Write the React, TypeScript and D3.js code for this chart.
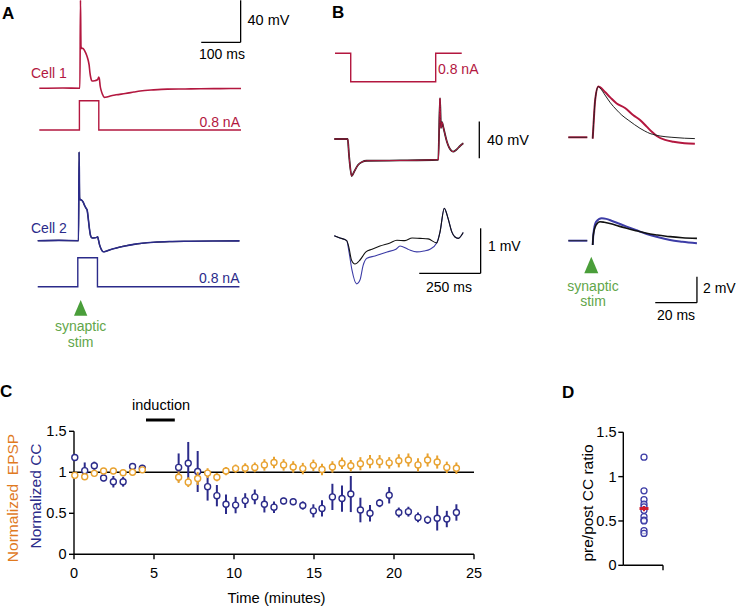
import React from "react";
import * as d3 from "d3";

type P = [number, number];

// ---------- Panel A data (time in ms, voltage in mV, current in nA) ----------
const cell1Voltage: P[] = [
  [0, 0], [60, 0.3], [103, 0], [104.5, 84], [105.8, 40], [107.5, 38], [110.5, 38], [114, 36.5],
  [118, 33.5], [121.5, 30], [124.5, 26], [126.5, 22], [128.5, 15], [130.8, 9.8], [134, 7],
  [140, 7.2], [146.5, 7.9], [149, 9], [151, 10.8], [152.5, 9], [154.5, 2.2], [157, -2],
  [160, -5.4], [164.6, -8.6], [172, -8.2], [180, -7.3], [195, -6.2], [218, -5], [240, -3.6],
  [256, -2.6], [290, -1.5], [325, -0.8], [370, -0.6], [409, -0.4], [460, -0.3], [512, -0.2],
];
const cell2Voltage: P[] = [
  [-4, 0], [50, 0.3], [99.5, 0], [101, 84.5], [102.3, 41], [104, 39], [107, 38.8], [111, 37],
  [115, 33.5], [118.5, 31], [121.5, 29], [124, 22], [127, 12], [130, 5], [134, 2.6], [142, 2.8],
  [146, 3.2], [148, 3.7], [150, 1], [153, -4], [157, -8], [162, -10.5], [170, -10], [180, -8.6],
  [195, -7], [218, -5], [240, -3.5], [260, -2.5], [290, -1.5], [330, -0.8], [380, -0.5],
  [440, -0.3], [508, -0.2],
];
const cell1Current: P[] = [[0, 0], [101.8, 0], [101.8, 0.8], [151, 0.8], [151, 0], [512, 0]];
const cell2Current: P[] = [[-4, 0], [97.7, 0], [97.7, 0.8], [147.6, 0.8], [147.6, 0], [508, 0]];

// ---------- Panel B data ----------
const stepCurrentB: P[] = [[0, 0], [64, 0], [64, -0.8], [410, -0.8], [410, 0], [516, 0]];
const stepVoltageB: P[] = [
  [-3, 0], [51.7, 0], [57, -17.4], [68, -40.3], [77.4, -36], [93.6, -28.4], [110, -25],
  [129, -23.7], [264.7, -23.4], [420.6, -22.6], [427.5, 44.4], [431.6, 12], [435.7, 18.5],
  [441.8, 12], [456, -3.3], [472.5, -12.5], [480.5, -13.8], [493, -12], [509, -7.6], [522.4, -4.7],
];
const smallBlackB: P[] = [
  [-3, 0], [20, -0.05], [47.6, -0.11], [57, -0.27], [67, -0.54], [81.4, -0.63], [101.8, -0.54],
  [126, -0.36], [150.7, -0.3], [183, -0.23], [224, -0.16], [252, -0.1], [285, -0.11],
  [314, -0.05], [346, -0.06], [379, -0.07], [414, -0.16], [427.5, 0.08], [445, 0.61],
  [460, 0.39], [476, 0.08], [488.6, -0.03], [502, -0.06], [522, 0.07],
];
const smallBlueB: P[] = [
  [-3, 0], [20, -0.05], [47.6, -0.11], [57, -0.36], [69, -0.76], [88, -1.07], [102, -0.98],
  [114, -0.67], [130, -0.5], [163, -0.45], [212, -0.36], [248, -0.3], [264.7, -0.23],
  [297, -0.3], [333, -0.36], [362, -0.34], [387, -0.3], [414, -0.16], [427.5, 0.08],
  [445, 0.61], [460, 0.39], [476, 0.08], [488.6, -0.03], [502, -0.06], [522, 0.07],
];
const epspPre: P[] = [[-11.7, 0], [-2.6, 0]];
const epspRed: P[] = [
  [0, -0.1], [0.4, 1], [1.2, 2.9], [2.7, 3.9], [3.5, 3.85], [5.9, 3.48], [8.5, 3.05],
  [11.5, 2.6], [15.5, 2.25], [19.5, 1.7], [22.7, 1.33], [25.9, 0.82], [28.5, 0.4], [30.7, 0.1],
  [34.7, -0.2], [38.7, -0.34], [44, -0.45], [49, -0.5],
];
const epspRedBlack: P[] = [
  [0, -0.1], [0.4, 1], [1.2, 2.9], [2.7, 3.9], [3.5, 3.8], [5.9, 3.25], [8.5, 2.65],
  [11.5, 2.1], [14, 1.7], [17, 1.33], [20, 0.98], [22.7, 0.69], [25, 0.48], [27.5, 0.29],
  [30, 0.18], [32.3, 0.1], [38, 0.0], [44, -0.07], [49, -0.1],
];
const epspBlue: P[] = [
  [0, -0.33], [0.3, 0.44], [1.6, 1.44], [4.3, 1.72], [6.5, 1.68], [9.3, 1.52], [12.5, 1.32],
  [16.3, 1.08], [21, 0.8], [25.9, 0.52], [31, 0.28], [37.1, 0.05], [43, -0.08], [50, -0.2],
];
const epspBlueBlack: P[] = [
  [0, -0.33], [0.3, 0.44], [1.6, 1.2], [3.5, 1.46], [5.5, 1.42], [9.3, 1.28], [12.5, 1.12],
  [16.3, 0.95], [21, 0.76], [25.9, 0.57], [31, 0.44], [37.1, 0.31], [43, 0.23], [50, 0.18],
];

// ---------- Panel C data ----------
const timeMinutes = [
  0.05, 0.67, 1.27, 1.85, 2.46, 3.07, 3.66, 4.27, 6.54, 7.14, 7.73, 8.35, 8.93, 9.5, 10.1,
  10.7, 11.3, 11.9, 12.5, 13.1, 13.7, 14.3, 14.96, 15.5, 16.15, 16.75, 17.3, 17.9, 18.5,
  19.1, 19.7, 20.3, 20.9, 21.5, 22.1, 22.7, 23.3, 23.9,
];
const ccValues = [
  1.18, 1.02, 1.08, 0.93, 0.885, 0.885, 1.07, 1.05, 1.06, 1.11, 1.01, 0.825, 0.715, 0.61,
  0.6, 0.655, 0.7, 0.61, 0.575, 0.65, 0.64, 0.595, 0.53, 0.56, 0.7, 0.68, 0.735, 0.54, 0.5,
  0.625, 0.72, 0.51, 0.52, 0.45, 0.42, 0.44, 0.43, 0.51,
];
const ccErrors = [
  0.02, 0.1, 0.05, 0.04, 0.07, 0.06, 0.04, 0.04, 0.17, 0.26, 0.25, 0.17, 0.13, 0.12, 0.1,
  0.09, 0.09, 0.1, 0.07, 0.04, 0.04, 0.05, 0.08, 0.1, 0.16, 0.16, 0.22, 0.15, 0.1, 0.05,
  0.1, 0.06, 0.06, 0.06, 0.05, 0.15, 0.1, 0.1,
];
const epspValues = [
  0.963, 0.946, 0.987, 1.015, 1.015, 0.995, 1.0, 1.03, 0.94, 0.88, 0.925, 0.99, 0.94, 1.015,
  1.045, 1.05, 1.06, 1.09, 1.12, 1.09, 1.065, 1.045, 1.085, 1.035, 1.065, 1.11, 1.08, 1.105,
  1.13, 1.13, 1.115, 1.14, 1.15, 1.09, 1.15, 1.125, 1.06, 1.05,
];
const epspErrors = [
  0.03, 0.03, 0.03, 0.02, 0.02, 0.02, 0.02, 0.03, 0.07, 0.06, 0.08, 0.06, 0.05, 0.05, 0.05,
  0.06, 0.06, 0.07, 0.07, 0.07, 0.07, 0.07, 0.07, 0.07, 0.07, 0.07, 0.07, 0.08, 0.08, 0.08,
  0.07, 0.08, 0.08, 0.08, 0.08, 0.08, 0.07, 0.07,
];
const cTicksY = [0, 0.5, 1, 1.5];
const cTicksX = [0, 5, 10, 15, 20, 25];
const inductionWindow = [4.5, 6.3];

// ---------- Panel D data ----------
const ratioValues = [1.22, 0.84, 0.74, 0.69, 0.66, 0.62, 0.55, 0.51, 0.5, 0.39, 0.36];
const ratioMean = 0.64;
const ratioSem = 0.03;
const dTicksY = [0, 0.5, 1, 1.5];

// ---------- styling ----------
const CRIMSON = "#b3173f";
const NAVY = "#2b2b8a";
const BLUE_B = "#3c3ca6";
const GREEN = "#4a9e3a";
const GREEN_TXT = "#62a64a";
const ORANGE = "#e8a230";
const ORANGE_LBL = "#e07a1f";
const FONT = "'Liberation Sans', Arial, Helvetica, sans-serif";

const fmt = (v: number) => String(v);

export default function App() {
  const xA = d3.scaleLinear().domain([0, 100]).range([39.3, 78.7]);
  const vA1 = d3.scaleLinear().domain([0, 40]).range([88.3, 46.3]);
  const vA2 = d3.scaleLinear().domain([0, 40]).range([240.7, 198.7]);
  const iA1 = d3.scaleLinear().domain([0, 0.8]).range([130, 100.7]);
  const iA2 = d3.scaleLinear().domain([0, 0.8]).range([286.7, 257.7]);

  const xB = d3.scaleLinear().domain([0, 250]).range([335, 396.4]);
  const iB = d3.scaleLinear().domain([0, -0.8]).range([53.3, 81.7]);
  const vB1 = d3.scaleLinear().domain([0, 40]).range([139, 102.3]);
  const vB2 = d3.scaleLinear().domain([0, 1]).range([235.7, 190.7]);
  const xBr = d3.scaleLinear().domain([0, 20]).range([592.7, 634.4]);
  const vBr1 = d3.scaleLinear().domain([0, 2]).range([137.3, 111.3]);
  const vBr2 = d3.scaleLinear().domain([0, 2]).range([240.7, 214.7]);

  const xC = d3.scaleLinear().domain([0, 25]).range([74, 474]);
  const yC = d3.scaleLinear().domain([0, 1.5]).range([554.3, 431.3]);

  const yD = d3.scaleLinear().domain([0, 1.5]).range([565.3, 432.3]);
  const xDpos = 644;

  const smooth = (xs: d3.ScaleLinear<number, number>, ys: d3.ScaleLinear<number, number>) =>
    d3.line<P>().x((d) => xs(d[0])).y((d) => ys(d[1])).curve(d3.curveMonotoneX);
  const straight = (xs: d3.ScaleLinear<number, number>, ys: d3.ScaleLinear<number, number>) =>
    d3.line<P>().x((d) => xs(d[0])).y((d) => ys(d[1])).curve(d3.curveLinear);

  const txt = (props: any, s: string) => (
    <text fontFamily={FONT} fontSize={14} {...props}>{s}</text>
  );

  const barA_bottom = 42.3;
  const barB1_bottom = 158.3;
  const barB2_bottom = 273.3;
  const barBr_bottom = 302.7;

  return (
    <div style={{ position: "absolute", left: 0, top: 0 }}>
      <svg width={736} height={608} style={{ display: "block", background: "#fff" }}>
        {/* ================= Panel A ================= */}
        {txt({ x: 2, y: 19, fontSize: 17, fontWeight: "bold" }, "A")}
        <line x1={xA(511)} x2={xA(511)} y1={barA_bottom - (vA1(0) - vA1(40))} y2={barA_bottom} stroke="#000" strokeWidth={1.3} />
        <line x1={xA(411)} x2={xA(511)} y1={barA_bottom} y2={barA_bottom} stroke="#000" strokeWidth={1.3} />
        {txt({ x: 247.5, y: 24.5, fontSize: 14.5 }, "40 mV")}
        {txt({ x: 222, y: 58.5, textAnchor: "middle" }, "100 ms")}

        {txt({ x: 31, y: 78, fill: CRIMSON }, "Cell 1")}
        <path d={smooth(xA, vA1)(cell1Voltage) || ""} fill="none" stroke={CRIMSON} strokeWidth={1.6} />
        <path d={straight(xA, iA1)(cell1Current) || ""} fill="none" stroke={CRIMSON} strokeWidth={1.4} />
        {txt({ x: 240, y: 127.3, textAnchor: "end", fill: CRIMSON }, "0.8 nA")}

        {txt({ x: 31, y: 232.7, fill: NAVY }, "Cell 2")}
        <path d={smooth(xA, vA2)(cell2Voltage) || ""} fill="none" stroke="#222" strokeWidth={1.2} />
        <path d={smooth(xA, vA2)(cell2Voltage) || ""} fill="none" stroke={NAVY} strokeWidth={1.6} />
        <path d={straight(xA, iA2)(cell2Current) || ""} fill="none" stroke={NAVY} strokeWidth={1.4} />
        {txt({ x: 239.5, y: 282.7, textAnchor: "end", fill: NAVY }, "0.8 nA")}

        <polygon points="74,315.7 87.3,315.7 80.7,300" fill={GREEN} />
        {txt({ x: 80.7, y: 331, textAnchor: "middle", fill: GREEN_TXT }, "synaptic")}
        {txt({ x: 80.7, y: 347, textAnchor: "middle", fill: GREEN_TXT }, "stim")}

        {/* ================= Panel B ================= */}
        {txt({ x: 332, y: 18, fontSize: 17, fontWeight: "bold" }, "B")}
        <path d={straight(xB, iB)(stepCurrentB) || ""} fill="none" stroke={CRIMSON} strokeWidth={1.4} />
        {txt({ x: 438, y: 74, fill: CRIMSON }, "0.8 nA")}

        <path d={smooth(xB, vB1)(stepVoltageB) || ""} fill="none" stroke="#222" strokeWidth={1.8} />
        <path d={smooth(xB, vB1)(stepVoltageB) || ""} fill="none" stroke={CRIMSON} strokeWidth={1.0} />
        <line x1={479.3} x2={479.3} y1={barB1_bottom - (vB1(0) - vB1(40))} y2={barB1_bottom} stroke="#000" strokeWidth={1.3} />
        {txt({ x: 487, y: 145, fontSize: 14.5 }, "40 mV")}

        <path d={smooth(xB, vB2)(smallBlueB) || ""} fill="none" stroke={BLUE_B} strokeWidth={1.1} />
        <path d={smooth(xB, vB2)(smallBlackB) || ""} fill="none" stroke="#111" strokeWidth={1.1} />
        <line x1={xB(593)} x2={xB(593)} y1={barB2_bottom - (vB2(0) - vB2(1))} y2={barB2_bottom} stroke="#000" strokeWidth={1.3} />
        <line x1={xB(343)} x2={xB(593)} y1={barB2_bottom} y2={barB2_bottom} stroke="#000" strokeWidth={1.3} />
        {txt({ x: 488, y: 251 }, "1 mV")}
        {txt({ x: 449, y: 291.5, textAnchor: "middle" }, "250 ms")}

        <path d={straight(xBr, vBr1)(epspPre) || ""} fill="none" stroke={CRIMSON} strokeWidth={2} />
        <path d={straight(xBr, vBr1)(epspPre) || ""} fill="none" stroke="#222" strokeWidth={0.8} />
        <path d={smooth(xBr, vBr1)(epspRed) || ""} fill="none" stroke={CRIMSON} strokeWidth={2} />
        <path d={smooth(xBr, vBr1)(epspRedBlack) || ""} fill="none" stroke="#222" strokeWidth={1} />

        <path d={straight(xBr, vBr2)(epspPre) || ""} fill="none" stroke={BLUE_B} strokeWidth={2} />
        <path d={straight(xBr, vBr2)(epspPre) || ""} fill="none" stroke="#222" strokeWidth={0.8} />
        <path d={smooth(xBr, vBr2)(epspBlue) || ""} fill="none" stroke={BLUE_B} strokeWidth={2} />
        <path d={smooth(xBr, vBr2)(epspBlueBlack) || ""} fill="none" stroke="#111" strokeWidth={1.6} />

        <polygon points="584.3,273.3 598.3,273.3 591.3,256.7" fill={GREEN} />
        {txt({ x: 593, y: 291, textAnchor: "middle", fill: GREEN_TXT }, "synaptic")}
        {txt({ x: 593, y: 306, textAnchor: "middle", fill: GREEN_TXT }, "stim")}

        <line x1={xBr(50)} x2={xBr(50)} y1={barBr_bottom - (vBr1(0) - vBr1(2))} y2={barBr_bottom} stroke="#000" strokeWidth={1.3} />
        <line x1={xBr(30)} x2={xBr(50)} y1={barBr_bottom} y2={barBr_bottom} stroke="#000" strokeWidth={1.3} />
        {txt({ x: 703, y: 293 }, "2 mV")}
        {txt({ x: 676, y: 320, textAnchor: "middle" }, "20 ms")}

        {/* ================= Panel C ================= */}
        {txt({ x: 0, y: 397, fontSize: 17, fontWeight: "bold" }, "C")}
        {txt({ x: 161, y: 410, textAnchor: "middle", fontSize: 14.5 }, "induction")}
        <line x1={xC(inductionWindow[0])} x2={xC(inductionWindow[1])} y1={420} y2={420} stroke="#000" strokeWidth={3} />

        <line x1={xC(0)} x2={xC(0)} y1={yC(1.5)} y2={yC(0)} stroke="#000" strokeWidth={1.4} />
        <line x1={xC(0)} x2={xC(25)} y1={yC(0)} y2={yC(0)} stroke="#000" strokeWidth={1.4} />
        {cTicksY.map((t) => (
          <g key={"cy" + t}>
            <line x1={xC(0) - 5} x2={xC(0)} y1={yC(t)} y2={yC(t)} stroke="#000" strokeWidth={1.4} />
            {txt({ x: xC(0) - 7.5, y: yC(t) + 5, textAnchor: "end", fontSize: 14.5 }, fmt(t))}
          </g>
        ))}
        {cTicksX.map((t) => (
          <g key={"cx" + t}>
            <line x1={xC(t)} x2={xC(t)} y1={yC(0)} y2={yC(0) + 5} stroke="#000" strokeWidth={1.4} />
            {txt({ x: xC(t), y: 578, textAnchor: "middle", fontSize: 14.5 }, String(t))}
          </g>
        ))}
        <line x1={xC(0)} x2={xC(25)} y1={yC(1)} y2={yC(1)} stroke="#000" strokeWidth={1.4} />
        {txt({ x: 276.5, y: 603, textAnchor: "middle", fontSize: 14.8 }, "Time (minutes)")}
        <text fontFamily={FONT} fontSize={15.5} fill={ORANGE_LBL} textAnchor="middle"
          transform={`translate(17.5,498) rotate(-90)`} style={{ whiteSpace: "pre" }}>
          {"Normalized  EPSP"}
        </text>
        <text fontFamily={FONT} fontSize={15.5} fill={NAVY} textAnchor="middle"
          transform={`translate(40.5,496) rotate(-90)`}>
          Normalized CC
        </text>

        {timeMinutes.map((t, i) => (
          <g key={"b" + i}>
            <line x1={xC(t)} x2={xC(t)}
              y1={yC(ccValues[i] - ccErrors[i])} y2={yC(ccValues[i] + ccErrors[i])}
              stroke={NAVY} strokeWidth={2} />
            <circle cx={xC(t)} cy={yC(ccValues[i])} r={3} fill="#fff" stroke={NAVY} strokeWidth={1.4} />
          </g>
        ))}
        {timeMinutes.map((t, i) => (
          <g key={"o" + i}>
            <line x1={xC(t)} x2={xC(t)}
              y1={yC(epspValues[i] - epspErrors[i])} y2={yC(epspValues[i] + epspErrors[i])}
              stroke={ORANGE} strokeWidth={2} />
            <circle cx={xC(t)} cy={yC(epspValues[i])} r={3} fill="#fff" stroke={ORANGE} strokeWidth={1.4} />
          </g>
        ))}

        {/* ================= Panel D ================= */}
        {txt({ x: 562, y: 398, fontSize: 17, fontWeight: "bold" }, "D")}
        <line x1={623.3} x2={623.3} y1={yD(1.5)} y2={yD(0)} stroke="#000" strokeWidth={1.4} />
        <line x1={623.3} x2={663} y1={yD(0)} y2={yD(0)} stroke="#000" strokeWidth={1.4} />
        <line x1={663} x2={663} y1={yD(0)} y2={yD(0) + 5} stroke="#000" strokeWidth={1.4} />
        {dTicksY.map((t) => (
          <g key={"dy" + t}>
            <line x1={618.3} x2={623.3} y1={yD(t)} y2={yD(t)} stroke="#000" strokeWidth={1.4} />
            {txt({ x: 616.5, y: yD(t) + 5, textAnchor: "end", fontSize: 14.5 }, fmt(t))}
          </g>
        ))}
        <text fontFamily={FONT} fontSize={15.5} textAnchor="middle" transform={`translate(593,503) rotate(-90)`}>
          pre/post CC ratio
        </text>
        {ratioValues.map((v, i) => (
          <circle key={"d" + i} cx={xDpos} cy={yD(v)} r={3} fill="#fff" fillOpacity={0.6} stroke={BLUE_B} strokeWidth={1.3} />
        ))}
        <line x1={xDpos} x2={xDpos} y1={yD(ratioMean - ratioSem)} y2={yD(ratioMean + ratioSem)} stroke="#d01c2c" strokeWidth={2} />
        <line x1={xDpos - 4.5} x2={xDpos + 4.5} y1={yD(ratioMean)} y2={yD(ratioMean)} stroke="#d01c2c" strokeWidth={3} />
      </svg>
    </div>
  );
}
